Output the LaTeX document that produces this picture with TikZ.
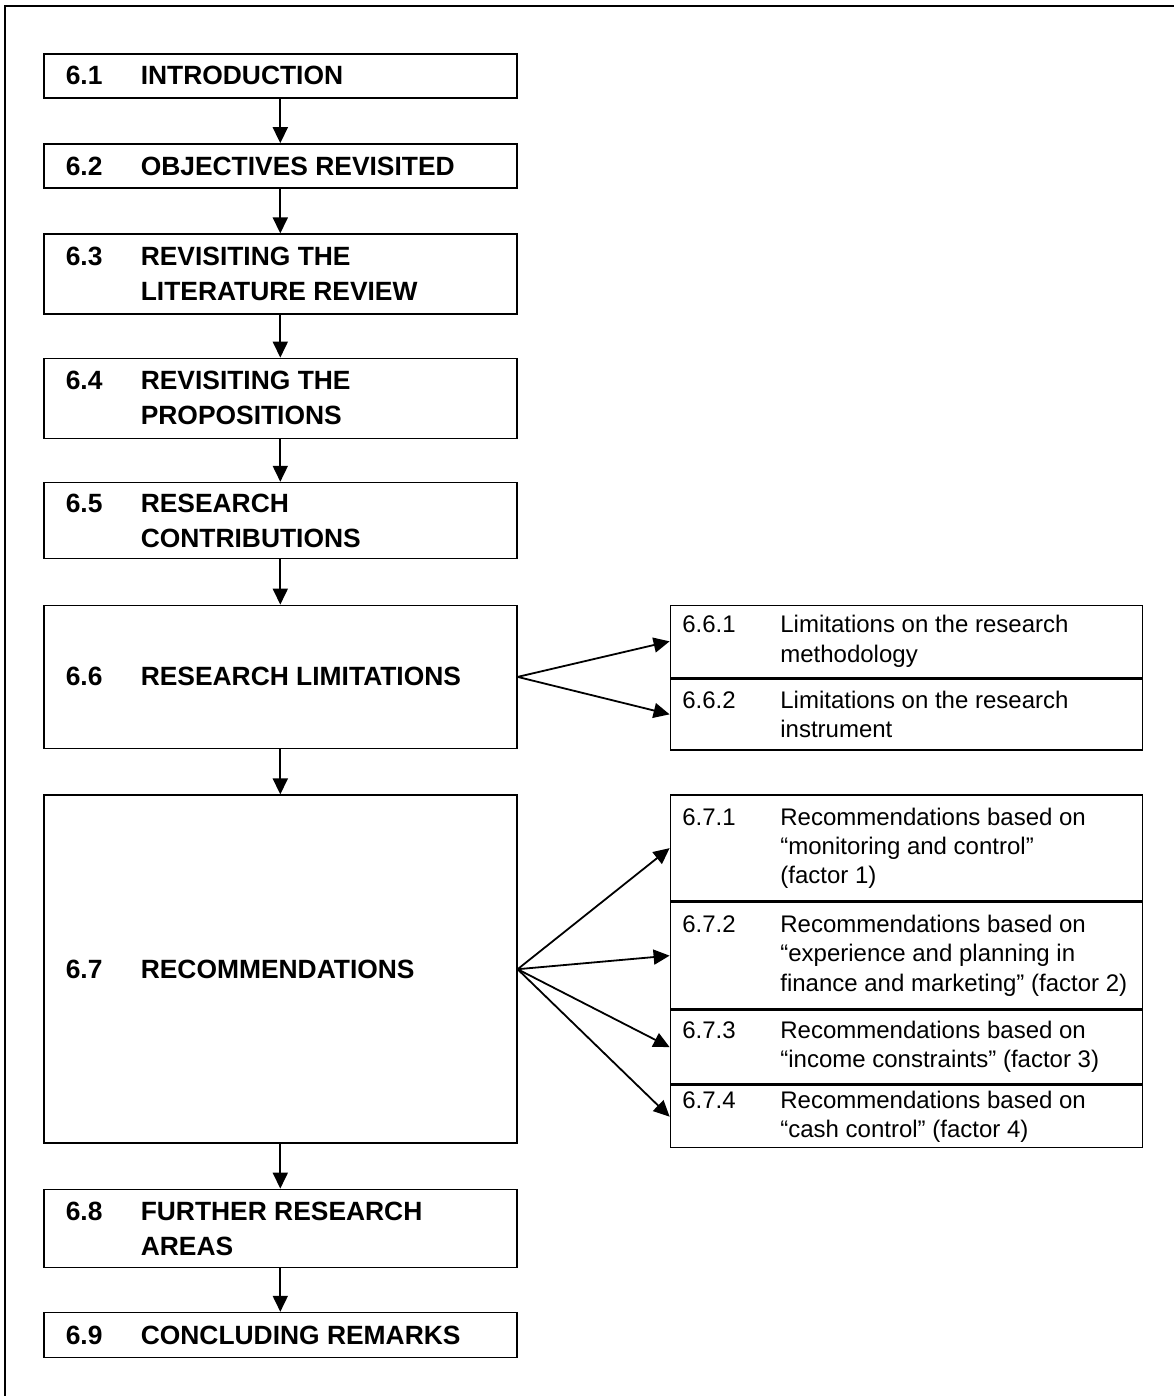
\documentclass[tikz,border=0pt]{standalone}
\usepackage{fontspec}
\setmainfont{Liberation Sans}
\usepackage{tikz}
\usetikzlibrary{arrows.meta,positioning}

\newcommand{\secline}[2]{\makebox[37.5pt][l]{#1}\parbox[t]{177pt}{#2}}
\newcommand{\subline}[2]{\makebox[49pt][l]{#1}\parbox[t]{175pt}{#2}}

\begin{document}
\begin{tikzpicture}[
  x=0.5pt,y=-0.5pt,
  node distance=22.3pt,
  secbox/.style={rectangle,draw,line width=0.8pt,minimum width=236.5pt,inner xsep=11pt,inner ysep=0pt,font=\fontsize{13.2}{17.5}\selectfont\bfseries},
  subbox/.style={rectangle,draw,line width=0.75pt,minimum width=236pt,inner xsep=6pt,inner ysep=0pt,font=\fontsize{12}{14.6}\selectfont},
  arrow/.style={-{Triangle[length=8pt,width=7.5pt]},line width=0.9pt}
]
  \useasboundingbox (0,0) rectangle (1174,1396);
  % page frame
  \draw[line width=1.25pt] (5,1396) -- (5,6) -- (1174,6);

  % Chapter sections
  \node[secbox,minimum height=22pt,anchor=north west] (s61) at (43,53) {\secline{6.1}{INTRODUCTION}};
  \node[secbox,minimum height=22pt,below=of s61] (s62) {\secline{6.2}{OBJECTIVES REVISITED}};
  \node[secbox,minimum height=40pt,below=of s62] (s63) {\secline{6.3}{REVISITING THE\\LITERATURE REVIEW}};
  \node[secbox,minimum height=40pt,below=21.3pt of s63] (s64) {\secline{6.4}{REVISITING THE\\PROPOSITIONS}};
  \node[secbox,minimum height=38pt,below=21.3pt of s64] (s65) {\secline{6.5}{RESEARCH\\CONTRIBUTIONS}};
  \node[secbox,minimum height=71.5pt,below=22.6pt of s65] (s66) {\secline{6.6}{RESEARCH LIMITATIONS}};
  \node[secbox,minimum height=174pt,below=22.6pt of s66] (s67) {\secline{6.7}{RECOMMENDATIONS}};
  \node[secbox,minimum height=39pt,below=of s67] (s68) {\secline{6.8}{FURTHER RESEARCH\\AREAS}};
  \node[secbox,minimum height=22.5pt,below=21.8pt of s68] (s69) {\secline{6.9}{CONCLUDING REMARKS}};

  % Sub-sections
  \node[subbox,minimum height=36pt,right=76pt of s66.north east,anchor=north west] (s661) {\subline{6.6.1}{Limitations on the research\\methodology}};
  \node[subbox,minimum height=35.5pt,below=0pt of s661] (s662) {\subline{6.6.2}{Limitations on the research\\instrument}};
  \node[subbox,minimum height=53pt,right=76pt of s67.north east,anchor=north west] (s671) {\subline{6.7.1}{Recommendations based on\\“monitoring and control”\\(factor 1)}};
  \node[subbox,minimum height=53pt,below=0pt of s671] (s672) {\subline{6.7.2}{Recommendations based on\\“experience and planning in\\finance and marketing” (factor 2)}};
  \node[subbox,minimum height=37pt,below=0pt of s672] (s673) {\subline{6.7.3}{Recommendations based on\\“income constraints” (factor 3)}};
  \node[subbox,minimum height=31pt,below=0pt of s673] (s674) {\subline{6.7.4}{Recommendations based on\\“cash control” (factor 4)}};

  \draw[arrow] (s61) -- (s62);
  \draw[arrow] (s62) -- (s63);
  \draw[arrow] (s63) -- (s64);
  \draw[arrow] (s64) -- (s65);
  \draw[arrow] (s65) -- (s66);
  \draw[arrow] (s66) -- (s67);
  \draw[arrow] (s67) -- (s68);
  \draw[arrow] (s68) -- (s69);
  \draw[arrow] (s66.east) -- (s661.west);
  \draw[arrow] (s66.east) -- (s662.west);
  \draw[arrow] (s67.east) -- (s671.west);
  \draw[arrow] (s67.east) -- (s672.west);
  \draw[arrow] (s67.east) -- (s673.west);
  \draw[arrow] (s67.east) -- (s674.west);
\end{tikzpicture}
\end{document}
